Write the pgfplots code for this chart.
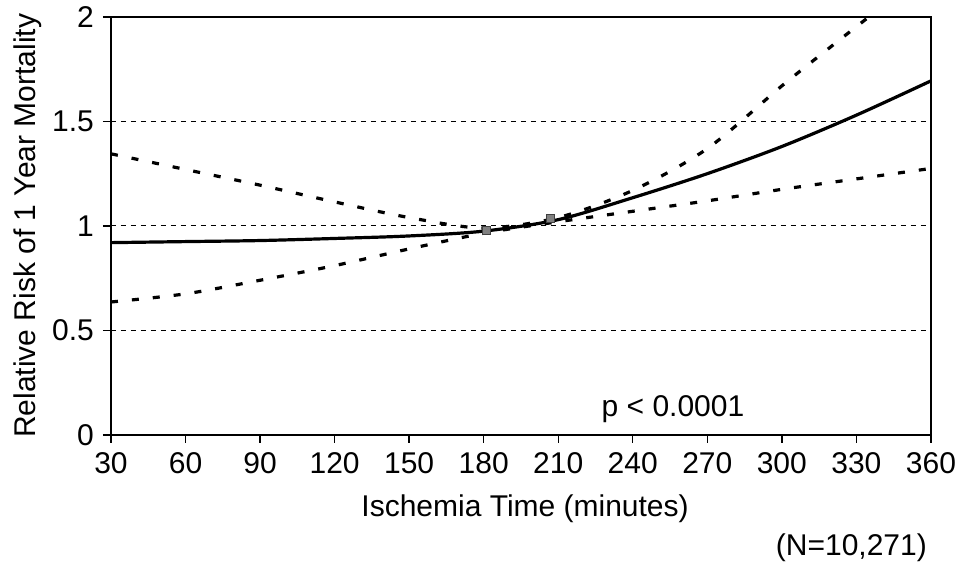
\documentclass[border=0pt]{standalone}
\usepackage{pgfplots}
\pgfplotsset{compat=1.18}
\usepackage{fontspec}
\setmainfont{Liberation Sans}
\begin{document}
\begin{tikzpicture}
\begin{axis}[
  scale only axis,
  width=410pt, height=209pt,
  xmin=30, xmax=360, ymin=0, ymax=2,
  xtick={30,60,...,360},
  ytick={0,0.5,1,1.5,2},
  yticklabels={0,0.5,1,1.5,2},
  tick align=outside,
  major tick length=4pt,
  tick style={black, line width=0.7pt},
  xtick pos=bottom, ytick pos=left,
  axis line style={line width=0.8pt},
  /pgf/number format/assume math mode=true,
  ticklabel style={font=\fontsize{15}{17}\selectfont},
  xticklabel style={yshift=-1.5pt},
  yticklabel style={xshift=-1pt},
  label style={font=\fontsize{15}{17}\selectfont},
  xlabel={Ischemia Time (minutes)},
  ylabel={Relative Risk of 1 Year Mortality},
  xlabel style={at={(axis description cs:0.505,-0.196)}, anchor=base},
  ylabel style={at={(axis description cs:-0.101,0.5)}, anchor=center},
  ymajorgrids,
  grid style={black, line width=0.5pt, dash pattern=on 2.5pt off 2.5pt},
  clip=false,
]
\addplot[black, line width=1.6pt, smooth] coordinates {
(30,0.92) (60,0.925) (90,0.93) (120,0.94) (150,0.952) (180,0.975) (210,1.03) (240,1.135) (270,1.25) (300,1.38) (330,1.53) (360,1.694)};
\addplot[black, line width=1.6pt, smooth, dash pattern=on 3.5pt off 7pt] coordinates {
(30,1.345) (60,1.27) (90,1.195) (120,1.115) (150,1.04) (180,0.99) (210,1.04) (240,1.17) (270,1.37) (300,1.67) (320,1.86) (335,2.0)};
\addplot[black, line width=1.6pt, smooth, dash pattern=on 3.5pt off 7pt] coordinates {
(30,0.636) (60,0.675) (90,0.74) (120,0.81) (150,0.89) (180,0.965) (210,1.02) (240,1.07) (270,1.12) (300,1.175) (330,1.225) (360,1.275)};
\addplot[only marks, mark=square*, mark size=2pt, mark options={fill=gray, draw=darkgray}] coordinates {(181,0.98) (207,1.035)};
\node[font=\fontsize{15}{17}\selectfont, anchor=base] at (axis cs:256.2,0.0876) {p < 0.0001};
\node[font=\fontsize{15}{17}\selectfont, anchor=base east] at (axis cs:361.2,-0.579) {(N=10,271)};
\coordinate (bl) at (axis cs:-14.67,-0.636);
\coordinate (tr) at (axis cs:370.9,2.081);
\end{axis}
\pgfresetboundingbox
\path[use as bounding box] (bl) rectangle (tr);
\end{tikzpicture}
\end{document}
